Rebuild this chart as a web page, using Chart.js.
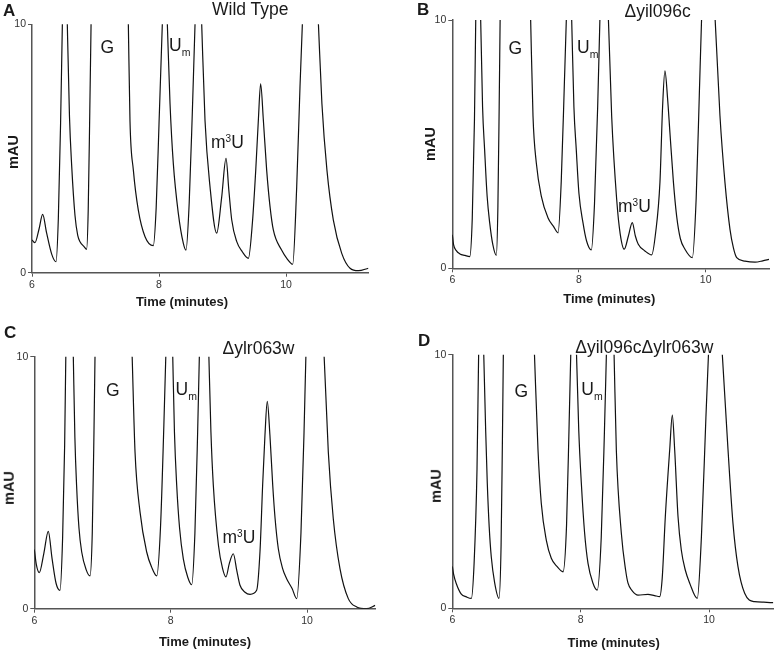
<!DOCTYPE html>
<html>
<head>
<meta charset="utf-8">
<script src="https://cdn.jsdelivr.net/npm/chart.js@4.4.0/dist/chart.umd.min.js"></script>
<style>
  body { margin: 0; background: #fff; width: 777px; height: 654px; position: relative; overflow: hidden;
         font-family: "Liberation Sans", Arial, sans-serif; color: #1a1a1a; }
  canvas { position: absolute; }
  .t { position: absolute; white-space: nowrap; font-size: 17.5px; line-height: 17.5px; }
  .lt { font-weight: bold; font-size: 17px; line-height: 17px; }
  .xt { position: absolute; white-space: nowrap; font-weight: bold; font-size: 13px; line-height: 13px; transform: translateX(-50%); }
  .yt { position: absolute; white-space: nowrap; font-weight: bold; font-size: 14.5px; line-height: 14.5px; transform: translate(-50%, -50%) rotate(-90deg); }
  .sub { font-size: 10.5px; position: relative; top: 5px; }
  .sup { font-size: 10px; position: relative; top: -6px; }
</style>
</head>
<body>
<canvas id="cA"></canvas>
<canvas id="cB"></canvas>
<canvas id="cC"></canvas>
<canvas id="cD"></canvas>

<!-- panel A -->
<div class="t lt" style="left:3px;top:2.3px">A</div>
<div class="t" style="left:212px;top:0.7px">Wild Type</div>
<div class="t" style="left:100.5px;top:38.5px">G</div>
<div class="t" style="left:169px;top:36.9px">U<span class="sub">m</span></div>
<div class="t" style="left:211px;top:134.2px">m<span class="sup">3</span>U</div>
<div class="xt" style="left:182px;top:295px">Time (minutes)</div>
<div class="yt" style="left:13.3px;top:151.7px">mAU</div>

<!-- panel B -->
<div class="t lt" style="left:417px;top:0.6px">B</div>
<div class="t" style="left:624.5px;top:2.7px">Δyil096c</div>
<div class="t" style="left:508.5px;top:40.2px">G</div>
<div class="t" style="left:577px;top:38.5px">U<span class="sub">m</span></div>
<div class="t" style="left:618px;top:197.9px">m<span class="sup">3</span>U</div>
<div class="xt" style="left:609.3px;top:292px">Time (minutes)</div>
<div class="yt" style="left:430px;top:144px">mAU</div>

<!-- panel C -->
<div class="t lt" style="left:4px;top:323.9px">C</div>
<div class="t" style="left:222.5px;top:340.2px">Δylr063w</div>
<div class="t" style="left:106px;top:381.9px">G</div>
<div class="t" style="left:175.5px;top:381.2px">U<span class="sub">m</span></div>
<div class="t" style="left:222.5px;top:528.5px">m<span class="sup">3</span>U</div>
<div class="xt" style="left:205px;top:635px">Time (minutes)</div>
<div class="yt" style="left:8.7px;top:488.3px">mAU</div>

<!-- panel D -->
<div class="t lt" style="left:418px;top:332.3px">D</div>
<div class="t" style="left:575.3px;top:338.5px">Δyil096cΔylr063w</div>
<div class="t" style="left:514.5px;top:382.5px">G</div>
<div class="t" style="left:581.3px;top:381.2px">U<span class="sub">m</span></div>
<div class="xt" style="left:613.7px;top:636px">Time (minutes)</div>
<div class="yt" style="left:435.7px;top:485.8px">mAU</div>

<script>
// tick values shared by all four panels
const xTicks = [6, 8, 10];
const yTicks = [0, 10];

// A: wild type (minutes / mAU). Big peaks run off the top of the 0-10 window,
// their tops are rough guesses only there to keep the visible flanks smooth
const timeA = [6.00, 6.047, 6.11, 6.168, 6.23, 6.31, 6.378, 6.415, 6.45, 6.478, 6.517, 6.556, 6.59, 6.625, 6.677, 6.72, 6.756, 6.82, 6.86, 6.885, 6.91, 6.93, 6.95, 7.22, 7.497, 7.517, 7.543, 7.596, 7.674, 7.78, 7.91, 7.955, 8.00, 8.052, 8.09, 8.131, 8.173, 8.225, 8.304, 8.383, 8.425, 8.475, 8.525, 8.567, 8.62, 8.672, 8.724, 8.803, 8.908, 8.985, 9.055, 9.10, 9.145, 9.224, 9.31, 9.407, 9.47, 9.523, 9.564, 9.60, 9.643, 9.695, 9.748, 9.80, 9.93, 10.02, 10.105, 10.168, 10.22, 10.257, 10.38, 10.51, 10.565, 10.644, 10.745, 10.877, 11.008, 11.14, 11.296];
const mauA  = [1.32, 1.21, 1.75, 2.35, 1.6, 0.75, 0.44, 2.2, 6.0, 10, 15, 10, 6.3, 4.3, 2.3, 1.5, 1.25, 1.05, 0.94, 2.5, 6.5, 10, 13.5, 25, 13, 10, 6.1, 4.13, 2.52, 1.45, 1.09, 2.6, 6.0, 10, 13, 10, 6.82, 4.4, 2.39, 1.18, 0.91, 2.8, 6.5, 10, 14, 10, 6.14, 3.46, 1.59, 3.0, 4.6, 3.3, 2.12, 1.25, 0.85, 0.58, 2.0, 4.13, 6.14, 7.6, 6.14, 4.13, 2.66, 1.72, 0.91, 0.55, 0.34, 3.46, 7.5, 10, 17.5, 10, 6.8, 4.13, 2.12, 0.78, 0.18, 0.08, 0.18];

// B: delta yil096c
const timeB = [6.00, 6.02, 6.06, 6.12, 6.20, 6.275, 6.315, 6.35, 6.37, 6.41, 6.448, 6.478, 6.51, 6.55, 6.59, 6.64, 6.695, 6.72, 6.74, 6.755, 6.775, 7.0, 7.217, 7.237, 7.274, 7.326, 7.405, 7.51, 7.60, 7.67, 7.72, 7.77, 7.80, 7.84, 7.885, 7.92, 7.957, 8.00, 8.063, 8.12, 8.195, 8.245, 8.295, 8.33, 8.40, 8.465, 8.516, 8.595, 8.65, 8.715, 8.78, 8.842, 8.89, 8.936, 9.04, 9.148, 9.21, 9.278, 9.32, 9.357, 9.40, 9.436, 9.49, 9.542, 9.60, 9.673, 9.79, 9.85, 9.90, 9.935, 10.04, 10.15, 10.226, 10.305, 10.384, 10.44, 10.49, 10.62, 10.78, 10.90, 11.00];
const mauB  = [1.35, 0.95, 0.72, 0.58, 0.52, 0.47, 2.0, 6.0, 10, 16, 10, 6.5, 4.79, 2.9, 1.84, 0.95, 0.52, 2.5, 6.5, 10, 14.5, 25, 12.1, 10, 6.13, 4.25, 2.91, 2.04, 1.68, 1.43, 3.5, 7.5, 10, 14, 10, 6.5, 4.79, 3.0, 1.84, 1.1, 0.74, 2.6, 6.5, 10, 16, 10, 6.13, 2.78, 1.4, 0.77, 1.3, 1.84, 1.3, 0.97, 0.7, 0.54, 1.43, 3.45, 6.5, 7.95, 6.8, 5.46, 3.5, 2.1, 1.2, 0.77, 0.43, 2.8, 7.0, 10, 17, 10, 6.13, 3.45, 1.57, 0.8, 0.43, 0.29, 0.25, 0.3, 0.36];

// C: delta ylr063w
const timeC = [6.00, 6.03, 6.073, 6.14, 6.205, 6.26, 6.32, 6.377, 6.415, 6.445, 6.462, 6.515, 6.572, 6.595, 6.62, 6.655, 6.695, 6.76, 6.817, 6.85, 6.875, 6.89, 6.91, 7.16, 7.415, 7.435, 7.477, 7.55, 7.648, 7.72, 7.795, 7.85, 7.90, 7.928, 7.98, 8.03, 8.055, 8.088, 8.13, 8.185, 8.25, 8.308, 8.355, 8.395, 8.42, 8.49, 8.56, 8.59, 8.625, 8.70, 8.76, 8.81, 8.86, 8.918, 8.97, 9.016, 9.09, 9.163, 9.26, 9.31, 9.348, 9.382, 9.416, 9.455, 9.496, 9.53, 9.578, 9.64, 9.70, 9.78, 9.848, 9.91, 9.955, 9.982, 10.12, 10.25, 10.311, 10.384, 10.482, 10.604, 10.727, 10.874, 11.00];
const mauC  = [2.35, 1.75, 1.43, 2.2, 3.07, 2.0, 1.0, 0.73, 2.8, 6.5, 10, 18, 10, 6.8, 4.9, 3.2, 2.25, 1.55, 1.3, 3.0, 7.0, 10, 14, 25, 11.8, 10, 6.22, 3.84, 2.25, 1.65, 1.3, 3.2, 7.3, 10, 15.5, 10, 7.0, 4.9, 3.2, 1.98, 1.25, 0.95, 3.0, 7.0, 10, 17.5, 10, 7.0, 4.9, 2.52, 1.6, 1.26, 1.8, 2.18, 1.5, 0.93, 0.65, 0.57, 0.73, 2.3, 4.9, 6.88, 8.23, 6.88, 4.9, 3.6, 2.38, 1.6, 1.19, 0.8, 0.4, 3.0, 7.0, 10, 21, 10, 6.22, 3.57, 1.59, 0.4, 0.07, 0.0, 0.13];

// D: delta yil096c delta ylr063w
const timeD = [6.00, 6.02, 6.06, 6.14, 6.22, 6.296, 6.34, 6.385, 6.41, 6.45, 6.49, 6.52, 6.545, 6.575, 6.607, 6.66, 6.727, 6.76, 6.78, 6.795, 6.815, 7.03, 7.26, 7.28, 7.335, 7.386, 7.464, 7.542, 7.63, 7.725, 7.78, 7.82, 7.845, 7.89, 7.935, 7.97, 8.01, 8.06, 8.114, 8.19, 8.258, 8.32, 8.37, 8.40, 8.46, 8.52, 8.555, 8.633, 8.70, 8.737, 8.80, 8.893, 9.048, 9.15, 9.23, 9.27, 9.318, 9.386, 9.427, 9.464, 9.516, 9.567, 9.63, 9.698, 9.816, 9.88, 9.95, 9.99, 10.10, 10.206, 10.295, 10.372, 10.45, 10.554, 10.71, 10.85, 11.00];
const mauD  = [1.65, 1.35, 0.99, 0.56, 0.45, 0.39, 1.8, 5.5, 10, 15.5, 10, 7.0, 4.93, 3.2, 2.03, 1.0, 0.39, 2.5, 6.5, 10, 14.5, 25, 11.4, 10, 6.24, 4.14, 2.69, 1.97, 1.65, 1.44, 3.3, 7.3, 10, 14.5, 10, 7.0, 4.93, 3.0, 1.77, 1.0, 0.72, 2.8, 7.0, 10, 16, 10, 6.24, 2.96, 1.5, 0.99, 0.7, 0.52, 0.55, 0.5, 0.46, 1.2, 3.61, 6.24, 7.62, 6.24, 3.61, 2.3, 1.5, 0.99, 0.39, 2.8, 7.5, 10, 15.5, 10, 6.24, 3.35, 1.64, 0.59, 0.26, 0.24, 0.22];

const tickFont = { family: '"Liberation Sans", Arial, sans-serif', size: 10.5 };

// canvas box and plot-area margins for each panel
const panels = [
  { id: 'cA', time: timeA, mau: mauA, xMax: 11.3, left: 0,   top: 0,   w: 388, h: 300, axisW: 32,   axisH: 27.3, padTop: 24.3, padRight: 19.4 },
  { id: 'cB', time: timeB, mau: mauB, xMax: 11,   left: 420, top: 0,   w: 357, h: 296, axisW: 32.3, axisH: 27.7, padTop: 20,   padRight: 8 },
  { id: 'cC', time: timeC, mau: mauC, xMax: 11,   left: 0,   top: 330, w: 388, h: 310, axisW: 34.3, axisH: 31.3, padTop: 26.7, padRight: 12.7 },
  { id: 'cD', time: timeD, mau: mauD, xMax: 11,   left: 420, top: 330, w: 357, h: 310, axisW: 32.3, axisH: 31.7, padTop: 24.7, padRight: 3.7 }
];

function makePanel(p) {
  const cv = document.getElementById(p.id);
  cv.width = p.w;
  cv.height = p.h;
  cv.style.left = p.left + 'px';
  cv.style.top = p.top + 'px';

  const pts = p.time.map((t, i) => ({ x: t, y: p.mau[i] }));

  new Chart(cv, {
    type: 'line',
    data: {
      datasets: [{
        data: pts,
        borderColor: '#111',
        borderWidth: 1.2,
        pointRadius: 0,
        fill: false,
        cubicInterpolationMode: 'monotone',
        capBezierPoints: false
      }]
    },
    options: {
      responsive: false,
      animation: false,
      events: [],
      layout: { padding: { top: p.padTop, right: p.padRight, left: 0, bottom: 0 } },
      plugins: { legend: { display: false }, tooltip: { enabled: false } },
      scales: {
        x: {
          type: 'linear',
          min: 6,
          max: p.xMax,
          afterBuildTicks: ax => { ax.ticks = xTicks.map(v => ({ value: v })); },
          afterFit: s => { s.height = p.axisH; },
          grid: { drawOnChartArea: false, tickLength: 4, color: '#555', lineWidth: 1 },
          border: { color: '#555', width: 1.5 },
          ticks: { font: tickFont, color: '#333', padding: 2, maxRotation: 0 }
        },
        y: {
          min: 0,
          max: 10,
          afterBuildTicks: ax => { ax.ticks = yTicks.map(v => ({ value: v })); },
          afterFit: s => { s.width = p.axisW; },
          grid: { drawOnChartArea: false, tickLength: 4, color: '#555', lineWidth: 1 },
          border: { color: '#555', width: 1.5 },
          ticks: { font: tickFont, color: '#333', padding: 2 }
        }
      }
    }
  });
}

panels.forEach(makePanel);
</script>
</body>
</html>
